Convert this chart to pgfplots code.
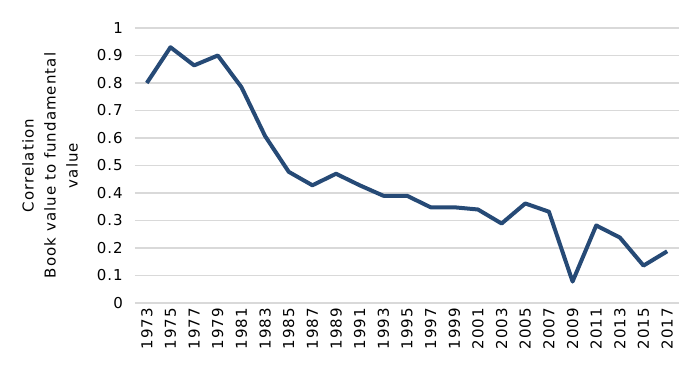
\documentclass[border=0pt]{standalone}
\usepackage{pgfplots}
\pgfplotsset{compat=1.18}
\usepackage{fontspec}
\setmainfont{DejaVu Sans}[LetterSpace=7]
\definecolor{linecol}{RGB}{38,74,118}
\definecolor{gridcol}{RGB}{217,217,217}
\begin{document}
\fontsize{15bp}{22bp}\selectfont
\begin{tikzpicture}
\useasboundingbox (-135bp,-77bp) rectangle (563bp,303bp);
\begin{axis}[
  at={(0,0)}, anchor=south west,
  scale only axis,
  width=544bp, height=275bp,
  xmin=-0.5, xmax=22.5,
  ymin=0, ymax=1,
  xtick={0,...,22},
  xticklabels={1973,1975,1977,1979,1981,1983,1985,1987,1989,1991,1993,1995,1997,1999,2001,2003,2005,2007,2009,2011,2013,2015,2017},
  ytick={0,0.1,0.2,0.3,0.4,0.5,0.6,0.7,0.8,0.9,1},
  yticklabels={0,0.1,0.2,0.3,0.4,0.5,0.6,0.7,0.8,0.9,1},
  axis line style={draw=none},
  major tick length=0pt,
  ymajorgrids,
  grid style={gridcol, line width=1.2bp},
  tick label style={font=\fontsize{15bp}{18bp}\selectfont, inner sep=0pt},
  x tick label style={rotate=90, anchor=east, xshift=-5bp},
  y tick label style={anchor=east, xshift=-12bp},
  ylabel={Correlation\\Book value to fundamental\\value},
  ylabel style={at={(rel axis cs:0,0.5)}, anchor=center, yshift=85bp, align=center, font=\fontsize{15bp}{22bp}\selectfont},
  clip=false,
]
\addplot[linecol, line width=4bp, line join=round] coordinates {
(0,0.80) (1,0.93) (2,0.864) (3,0.90) (4,0.785) (5,0.607) (6,0.477) (7,0.428) (8,0.47) (9,0.428) (10,0.39) (11,0.39) (12,0.348) (13,0.348) (14,0.34) (15,0.289) (16,0.362) (17,0.332) (18,0.078) (19,0.282) (20,0.238) (21,0.136) (22,0.188)
};
\end{axis}
\end{tikzpicture}
\end{document}
